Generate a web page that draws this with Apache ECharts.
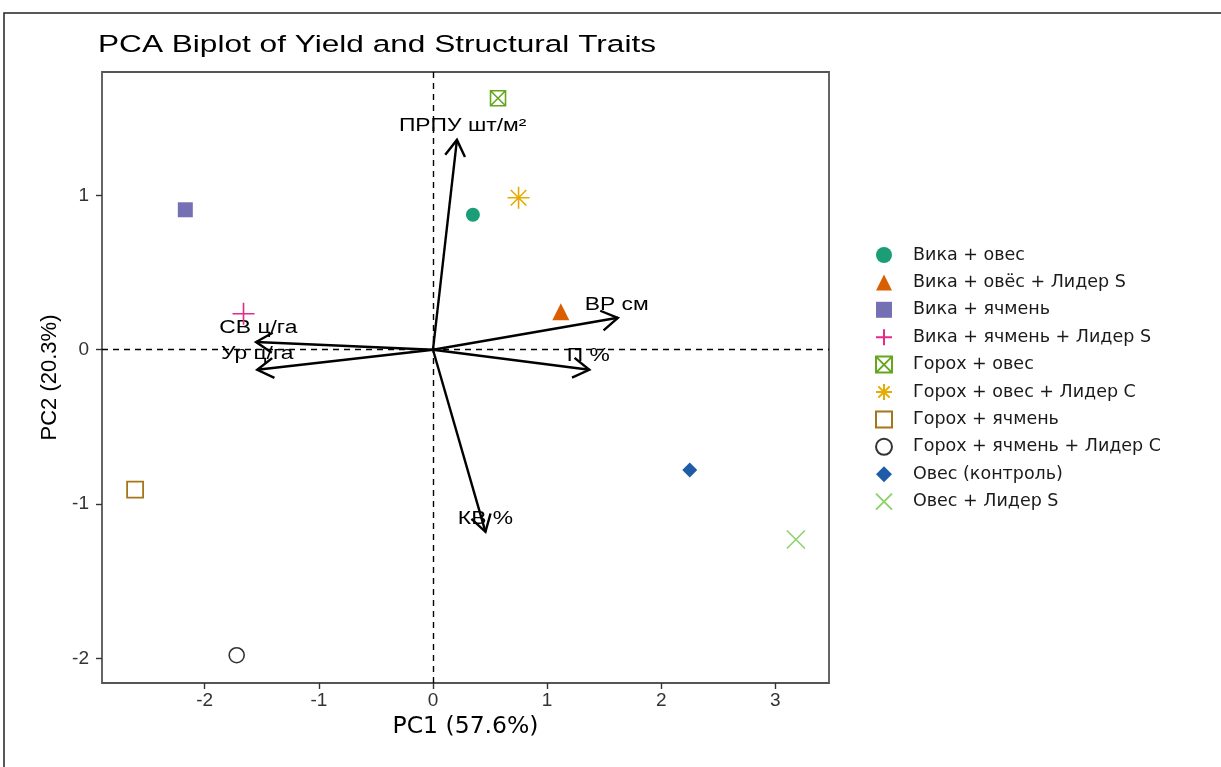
<!DOCTYPE html>
<html>
<head>
<meta charset="utf-8">
<script src="https://cdn.jsdelivr.net/npm/echarts@6/dist/echarts.min.js"></script>
<style>
html,body{margin:0;padding:0;background:#fff;}
#chart{width:1221px;height:767px;}
</style>
</head>
<body>
<div id="chart"></div>
<script>
// ---- data ----
const pointNames = ['Вика + овес','Вика + овёс + Лидер S','Вика + ячмень','Вика + ячмень + Лидер S','Горох + овес','Горох + овес + Лидер C','Горох + ячмень','Горох + ячмень + Лидер C','Овес (контроль)','Овес + Лидер S'];
const pointX = [0.35, 1.12, -2.17, -1.66, 0.57, 0.75, -2.61, -1.72, 2.25, 3.18];
const pointY = [0.875, 0.246, 0.907, 0.233, 1.63, 0.985, -0.907, -1.98, -0.78, -1.23];

const arrowNames = ['ПРПУ шт/м²','ВР см','П %','КВ %','СВ ц/га','Ур ц/га'];
const arrowX = [0.21, 1.62, 1.37, 0.46, -1.55, -1.54];
const arrowY = [1.36, 0.207, -0.13, -1.18, 0.05, -0.13];
const labelX = [0.26, 1.61, 1.36, 0.46, -1.53, -1.54];
const labelY = [1.45, 0.29, -0.04, -1.10, 0.14, -0.03];

const xTicks = [-2, -1, 0, 1, 2, 3];
const yTicks = [-2, -1, 0, 1];

const titleText = 'PCA Biplot of Yield and Structural Traits';
const xName = 'PC1 (57.6%)';
const yName = 'PC2 (20.3%)';

// ---- styles ----
const FONT = '"Liberation Sans", Arial, sans-serif';
const WIDEFONT = '"DejaVu Sans", sans-serif';
const pointStyles = [
  {symbol:'circle', size:14, color:'#1b9e77', border:'#1b9e77', bw:0},
  {symbol:'triangle', size:17, color:'#d95f02', border:'#d95f02', bw:0},
  {symbol:'rect', size:15, color:'#7570b3', border:'#7570b3', bw:0},
  {symbol:'path://M0,5L10,5M5,0L5,10', size:22, color:'transparent', border:'#e7298a', bw:1.6},
  {symbol:'path://M0,0L10,0L10,10L0,10ZM0,0L10,10M10,0L0,10', size:15, color:'transparent', border:'#66a61e', bw:1.6},
  {symbol:'path://M0,5L10,5M5,0L5,10M1.46,1.46L8.54,8.54M8.54,1.46L1.46,8.54', size:22, color:'transparent', border:'#e6ab02', bw:1.6},
  {symbol:'rect', size:16, color:'#ffffff', border:'#a6761d', bw:1.8},
  {symbol:'circle', size:15, color:'#ffffff', border:'#333333', bw:1.6},
  {symbol:'diamond', size:15, color:'#1f5ca8', border:'#1f5ca8', bw:0},
  {symbol:'path://M0,0L10,10M10,0L0,10', size:18, color:'transparent', border:'#8fd16e', bw:1.6}
];

const chart = echarts.init(document.getElementById('chart'), null, {renderer:'canvas'});

const series = pointNames.map((name, i) => ({
  name: name,
  type: 'scatter',
  symbol: pointStyles[i].symbol,
  symbolSize: pointStyles[i].size,
  itemStyle: {color: pointStyles[i].color, borderColor: pointStyles[i].border, borderWidth: pointStyles[i].bw, opacity: 1},
  data: [[pointX[i], pointY[i]]],
  z: 5
}));

// reference dashed lines
series.push({
  type: 'line',
  data: [],
  silent: true,
  markLine: {
    silent: true,
    symbol: ['none','none'],
    label: {show:false},
    lineStyle: {color:'#000', type:[6,5], width:1.4},
    data: [{xAxis:0},{yAxis:0}]
  }
});

// arrows
series.push({
  type: 'custom',
  z: 4,
  silent: true,
  data: arrowX.map((x, i) => [x, arrowY[i], labelX[i], labelY[i]]),
  encode: {x:0, y:1},
  renderItem: function (params, api) {
    const o = api.coord([0, 0]);
    const t = api.coord([api.value(0), api.value(1)]);
    const l = api.coord([api.value(2), api.value(3)]);
    const ang = Math.atan2(t[1] - o[1], t[0] - o[0]);
    const L = 19, a = 0.55;
    const p1 = [t[0] - L * Math.cos(ang - a), t[1] - L * Math.sin(ang - a)];
    const p2 = [t[0] - L * Math.cos(ang + a), t[1] - L * Math.sin(ang + a)];
    return {
      type: 'group',
      children: [
        {type:'line', shape:{x1:o[0], y1:o[1], x2:t[0], y2:t[1]}, style:{stroke:'#000', lineWidth:2.4}},
        {type:'polyline', shape:{points:[p1, t, p2]}, style:{stroke:'#000', lineWidth:2.4, fill:null}},
        {type:'text', x:l[0], y:l[1], scaleX:1.27,
         style:{text: arrowNames[params.dataIndex], x:0, y:0, align:'center', verticalAlign:'middle', font:'18px ' + FONT, fill:'#000'}}
      ]
    };
  }
});

const option = {
  backgroundColor: '#ffffff',
  animation: false,
  legend: {
    orient: 'vertical',
    left: 870, top: 241,
    itemWidth: 16, itemHeight: 16,
    itemGap: 9.4,
    data: pointNames,
    textStyle: {fontFamily: WIDEFONT, fontSize: 17.5, lineHeight: 16, color: '#1a1a1a', padding: [0, 0, 0, 16]}
  },
  grid: {
    left: 102, right: 392, top: 72, bottom: 84,
    show: true, borderColor: '#555555', borderWidth: 1.8, backgroundColor: '#fff'
  },
  xAxis: {
    type: 'value', min: -2.9, max: 3.47,
    name: xName, nameLocation: 'middle', nameGap: 28,
    nameTextStyle: {fontFamily: WIDEFONT, fontSize: 23.5, color: '#000'},
    axisLine: {show: false, onZero: false},
    splitLine: {show: false},
    axisTick: {show: true, length: 6, lineStyle: {color: '#333', width: 1.4}, customValues: xTicks},
    axisLabel: {fontFamily: FONT, fontSize: 19, color: '#333333', margin: 8, customValues: xTicks}
  },
  yAxis: {
    type: 'value', min: -2.16, max: 1.80,
    name: yName, nameLocation: 'middle', nameGap: 33, nameRotate: 90,
    nameTextStyle: {fontFamily: FONT, fontSize: 22, color: '#000'},
    axisLine: {show: false, onZero: false},
    splitLine: {show: false},
    axisTick: {show: true, length: 6, lineStyle: {color: '#333', width: 1.4}, customValues: yTicks},
    axisLabel: {fontFamily: FONT, fontSize: 19, color: '#333333', margin: 13, customValues: yTicks}
  },
  graphic: [
    {
      type: 'text', z: 100, silent: true,
      x: 98, y: 45, scaleX: 1.29,
      style: {text: titleText, x: 0, y: 0, align: 'left', verticalAlign: 'middle', font: '24.5px ' + FONT, fill: '#000'}
    },
    {
      type: 'rect', z: 100, silent: true,
      shape: {x: 4, y: 13, width: 1240, height: 800},
      style: {stroke: '#222', lineWidth: 1.5, fill: null}
    }
  ],
  series: series
};
chart.setOption(option);
</script>
</body>
</html>
